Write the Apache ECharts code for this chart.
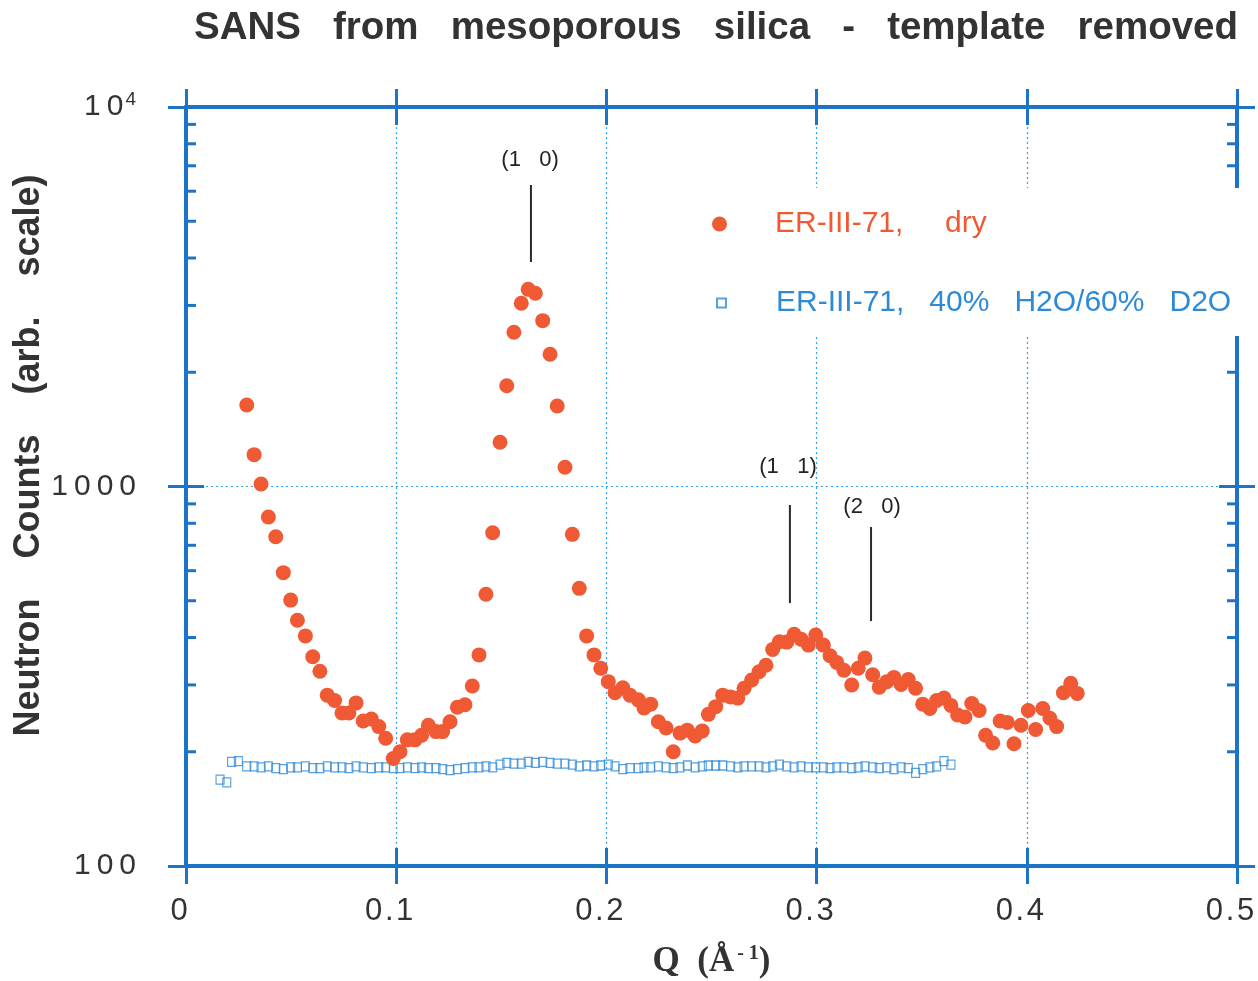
<!DOCTYPE html>
<html>
<head>
<meta charset="utf-8">
<script src="https://cdn.jsdelivr.net/npm/echarts@6/dist/echarts.min.js"></script>
<style>
  html, body { margin: 0; padding: 0; background: #fff; }
  #chart { width: 1258px; height: 981px; }
</style>
</head>
<body>
<div id="chart"></div>
<script>
// dry sample (filled circles)
const qDry = [
  0.0289, 0.0324, 0.0357, 0.0392, 0.0427, 0.0463, 0.0498, 0.0530, 0.0568, 0.0603, 0.0637, 0.0672, 0.0707, 0.0742,
  0.0775, 0.0809, 0.0843, 0.0882, 0.0917, 0.0950, 0.0986, 0.1018, 0.1053, 0.1089, 0.1121, 0.1153, 0.1189,
  0.1221, 0.1256, 0.1291, 0.1327, 0.1362, 0.1394, 0.1427, 0.1459, 0.1494, 0.1526, 0.1560, 0.1595, 0.1628, 0.1662,
  0.1697, 0.1732, 0.1766, 0.1803, 0.1838, 0.1871, 0.1906, 0.1941, 0.1973, 0.2009, 0.2041, 0.2078, 0.2112, 0.2152,
  0.2179, 0.2211, 0.2247, 0.2284, 0.2318, 0.2350, 0.2385, 0.2422, 0.2456, 0.2485, 0.2520, 0.2553, 0.2591, 0.2625,
  0.2655, 0.2691, 0.2726, 0.2759, 0.2791, 0.2823, 0.2858, 0.2893, 0.2926, 0.2961, 0.2996, 0.3032, 0.3064, 0.3096,
  0.3130, 0.3167, 0.3198, 0.3230, 0.3267, 0.3298, 0.3334, 0.3368, 0.3402, 0.3436, 0.3471, 0.3505, 0.3539, 0.3571,
  0.3606, 0.3639, 0.3671, 0.3706, 0.3738, 0.3773, 0.3804, 0.3838, 0.3873, 0.3907, 0.3939, 0.3972, 0.4007, 0.4042,
  0.4076, 0.4110, 0.4142, 0.4174, 0.4209, 0.4240
]
const countsDry = [
  1640, 1213, 1015, 831, 737, 593, 502, 444, 404, 356, 326, 282, 273, 253,
  253, 269, 241, 244, 233, 217, 192, 200, 215, 215, 221, 235, 226,
  226, 240, 262, 266, 298, 360, 520, 755, 1308, 1843, 2549, 3039, 3308, 3229,
  2735, 2230, 1630, 1124, 748, 539, 404, 360, 332, 306, 286, 295, 282, 274,
  261, 267, 240, 231, 200, 224, 228, 220, 227, 251, 263, 282, 279, 277,
  294, 309, 325, 338, 372, 390, 389, 408, 396, 382, 406, 382, 358, 344,
  328, 300, 332, 353, 319, 296, 306, 314, 301, 310, 294, 267, 260, 273,
  277, 265, 250, 247, 268, 257, 221, 211, 241, 239, 210, 235, 257, 229,
  260, 245, 233, 286, 303, 285
]

// 40% H2O / 60% D2O sample (open squares)
const qWet = [
  0.0162, 0.0194, 0.0217, 0.0249,
  0.0289, 0.0324, 0.0357, 0.0392, 0.0427, 0.0463, 0.0498, 0.0530, 0.0568, 0.0603, 0.0637, 0.0672, 0.0707, 0.0742,
  0.0775, 0.0809, 0.0843, 0.0882, 0.0917, 0.0950, 0.0986, 0.1018, 0.1053, 0.1089, 0.1121, 0.1153, 0.1189,
  0.1221, 0.1256, 0.1291, 0.1327, 0.1362, 0.1394, 0.1427, 0.1459, 0.1494, 0.1526, 0.1560, 0.1595, 0.1628, 0.1662,
  0.1697, 0.1732, 0.1766, 0.1803, 0.1838, 0.1871, 0.1906, 0.1941, 0.1973, 0.2009, 0.2041, 0.2078, 0.2112, 0.2152,
  0.2179, 0.2211, 0.2247, 0.2284, 0.2318, 0.2350, 0.2385, 0.2422, 0.2456, 0.2485, 0.2520, 0.2553, 0.2591, 0.2625,
  0.2655, 0.2691, 0.2726, 0.2759, 0.2791, 0.2823, 0.2858, 0.2893, 0.2926, 0.2961, 0.2996, 0.3032, 0.3064, 0.3096,
  0.3130, 0.3167, 0.3198, 0.3230, 0.3267, 0.3298, 0.3334, 0.3368, 0.3402, 0.3436, 0.3471, 0.3505, 0.3539, 0.3571,
  0.3606, 0.3639
]
const countsWet = [
  169, 166, 188, 189,
  183, 183, 182, 183, 181, 180, 182, 182, 183, 181, 181, 183, 182, 182,
  181, 183, 182, 181, 182, 182, 181, 181, 182, 181, 182, 181, 181,
  180, 179, 180, 181, 182, 182, 183, 182, 185, 187, 186, 186, 188, 187,
  188, 187, 186, 186, 185, 183, 184, 183, 184, 185, 183, 180, 181, 181,
  182, 182, 183, 182, 181, 182, 184, 182, 183, 184, 184, 184, 183, 182,
  183, 183, 183, 182, 183, 185, 183, 182, 183, 182, 182, 182, 181, 182,
  182, 181, 182, 183, 182, 181, 182, 180, 182, 181, 176, 180, 182, 183,
  189, 185
]

// Bragg peak markers
const peakNames = ['(1   0)', '(1   1)', '(2   0)']
const peakQ = [0.1641, 0.2873, 0.3259]
const peakTop = [6230, 894, 782]
const peakBottom = [3905, 493, 442]
const peakLabelQ = [0.1637, 0.2864, 0.3264]
const peakLabelY = [7250, 1126, 883]

// log minor ticks
const minorTicks = [200, 300, 400, 500, 600, 700, 800, 900, 2000, 3000, 4000, 5000, 6000, 7000, 8000, 9000]

const xTicks = { min: 0, max: 0.5, interval: 0.1 }

const nameDry = 'ER-III-71,     dry'
const nameWet = 'ER-III-71,   40%   H2O/60%   D2O'

const axisBlue = '#1c74c6'
const gridBlue = '#2ea3f2'
const red = '#ef5a35'
const blue = '#2f8ad6'
const font = "'Liberation Sans', Arial, sans-serif"
const serif = "'Liberation Serif', 'Times New Roman', serif"

const chart = echarts.init(document.getElementById('chart'))

const spaced = (s, gap) => s.split('').join(gap || '\u2009')

const xAxisBase = (position, inside, main) => ({
  type: 'value',
  position: position,
  min: xTicks.min,
  max: xTicks.max,
  interval: xTicks.interval,
  axisLine: { show: true, onZero: false, lineStyle: { color: axisBlue, width: 4 } },
  axisTick: { show: true, inside: inside, length: 18, lineStyle: { color: axisBlue, width: 3 } },
  axisLabel: { show: main, fontFamily: font, fontSize: 31, color: '#333', margin: 30,
    padding: [0, 14, 0, 0],
    formatter: v => v === 0 ? '0' : spaced(String(+v.toFixed(1)), '\u200a') },
  splitLine: { show: main, lineStyle: { color: gridBlue, width: 1.2, type: [2, 3] } }
})

const yAxisBase = (position, inside, main) => ({
  type: 'log',
  logBase: 10,
  position: position,
  min: 100,
  max: 10000,
  axisLine: { show: true, onZero: false, lineStyle: { color: axisBlue, width: 4 } },
  axisTick: { show: true, inside: inside, length: 18, lineStyle: { color: axisBlue, width: 3 } },
  minorTick: { show: false },
  axisLabel: {
    show: main,
    margin: 50,
    fontFamily: font,
    fontSize: 30,
    color: '#333',
    formatter: v => v === 10000 ? '{n|' + spaced('10') + '}{s|4}' : spaced(String(v)),
    rich: {
      n: { fontFamily: font, fontSize: 30, color: '#333' },
      s: { fontFamily: font, fontSize: 19, color: '#333', verticalAlign: 'top', padding: [0, 0, 14, 2] }
    }
  },
  splitLine: { show: main, lineStyle: { color: gridBlue, width: 1.2, type: [2, 3] } }
})

const yMain = yAxisBase('left', true, true)
yMain.name = 'Neutron    Counts    (arb.    scale)'
yMain.nameLocation = 'middle'
yMain.nameGap = 139
yMain.nameMoveOverlap = false
yMain.nameTextStyle = { fontFamily: font, fontSize: 36, fontWeight: 'bold', color: '#333', padding: [0, 0, 0, 62] }

const xMain = xAxisBase('bottom', true, true)
xMain.name = '{q|Q  (Å}{s|- 1}{q|)}'
xMain.nameLocation = 'middle'
xMain.nameGap = 78
xMain.nameTextStyle = {
  rich: {
    q: { fontFamily: serif, fontWeight: 'bold', fontSize: 35, color: '#333' },
    s: { fontFamily: serif, fontWeight: 'bold', fontSize: 20, color: '#333', verticalAlign: 'top', padding: [0, 0, 16, 3] }
  }
}

chart.setOption({
  backgroundColor: '#fff',
  animation: false,
  title: {
    text: 'SANS   from   mesoporous   silica   -   template   removed',
    left: 711,
    textAlign: 'center',
    top: 4,
    textStyle: { fontFamily: font, fontSize: 38.5, fontWeight: 'bold', color: '#333' }
  },
  grid: { left: 186, right: 21, top: 107, bottom: 115, containLabel: false, outerBoundsMode: 'none' },
  legend: [
    {
      data: [{ name: nameDry, icon: 'circle' }],
      orient: 'vertical',
      left: 702,
      top: 188,
      padding: [21, 270, 32, 10],
      backgroundColor: '#fff',
      itemWidth: 15,
      itemHeight: 15,
      selectedMode: false,
      textStyle: { fontFamily: font, fontSize: 30, color: red, padding: [0, 0, 0, 43] }
    },
    {
      data: [{ name: nameWet, icon: 'path://M0,0h10v10h-10z' }],
      orient: 'vertical',
      left: 706,
      top: 262,
      padding: [26, 60, 18, 10],
      backgroundColor: '#fff',
      itemWidth: 9,
      itemHeight: 9,
      selectedMode: false,
      textStyle: { fontFamily: font, fontSize: 30, color: blue, padding: [0, 0, 0, 45] }
    }
  ],
  xAxis: [
    xMain,
    xAxisBase('bottom', false, false),
    xAxisBase('top', true, false),
    xAxisBase('top', false, false)
  ],
  yAxis: [
    yMain,
    yAxisBase('left', false, false),
    yAxisBase('right', true, false),
    yAxisBase('right', false, false)
  ],
  series: [
    {
      name: nameWet,
      type: 'scatter',
      symbol: 'rect',
      symbolSize: [8, 9],
      itemStyle: { color: 'rgba(255,255,255,0)', borderColor: blue, borderWidth: 1.2 },
      data: qWet.map((q, i) => [q, countsWet[i]]),
      z: 3
    },
    {
      name: nameDry,
      type: 'scatter',
      symbol: 'circle',
      symbolSize: 15,
      itemStyle: { color: red, opacity: 1 },
      data: qDry.map((q, i) => [q, countsDry[i]]),
      z: 4
    },
    {
      type: 'custom',
      silent: true,
      clip: false,
      data: minorTicks.map(v => [xTicks.min, v]),
      renderItem: (params, api) => {
        const v = api.value(1)
        const pl = api.coord([xTicks.min, v])
        const pr = api.coord([xTicks.max, v])
        const style = { stroke: axisBlue, lineWidth: 3 }
        return {
          type: 'group',
          children: [
            { type: 'line', shape: { x1: pl[0], y1: pl[1], x2: pl[0] + 10, y2: pl[1] }, style: style },
            { type: 'line', shape: { x1: pr[0] - 10, y1: pr[1], x2: pr[0], y2: pr[1] }, style: style }
          ]
        }
      },
      z: 1
    },
    {
      type: 'custom',
      silent: true,
      clip: false,
      data: peakQ.map((q, i) => [q, peakTop[i], peakBottom[i], peakLabelQ[i], peakLabelY[i]]),
      renderItem: (params, api) => {
        const i = params.dataIndex
        const top = api.coord([api.value(0), api.value(1)])
        const bottom = api.coord([api.value(0), api.value(2)])
        const lab = api.coord([api.value(3), api.value(4)])
        return {
          type: 'group',
          children: [
            { type: 'line', shape: { x1: top[0], y1: top[1], x2: bottom[0], y2: bottom[1] },
              style: { stroke: '#2a2a2a', lineWidth: 2 } },
            { type: 'text', x: lab[0], y: lab[1],
              style: { text: peakNames[i], align: 'center', verticalAlign: 'middle',
                font: '22px ' + font, fill: '#222' } }
          ]
        }
      },
      z: 5
    }
  ]
})

window.onresize = function () {
  chart.resize()
}
</script>
</body>
</html>
